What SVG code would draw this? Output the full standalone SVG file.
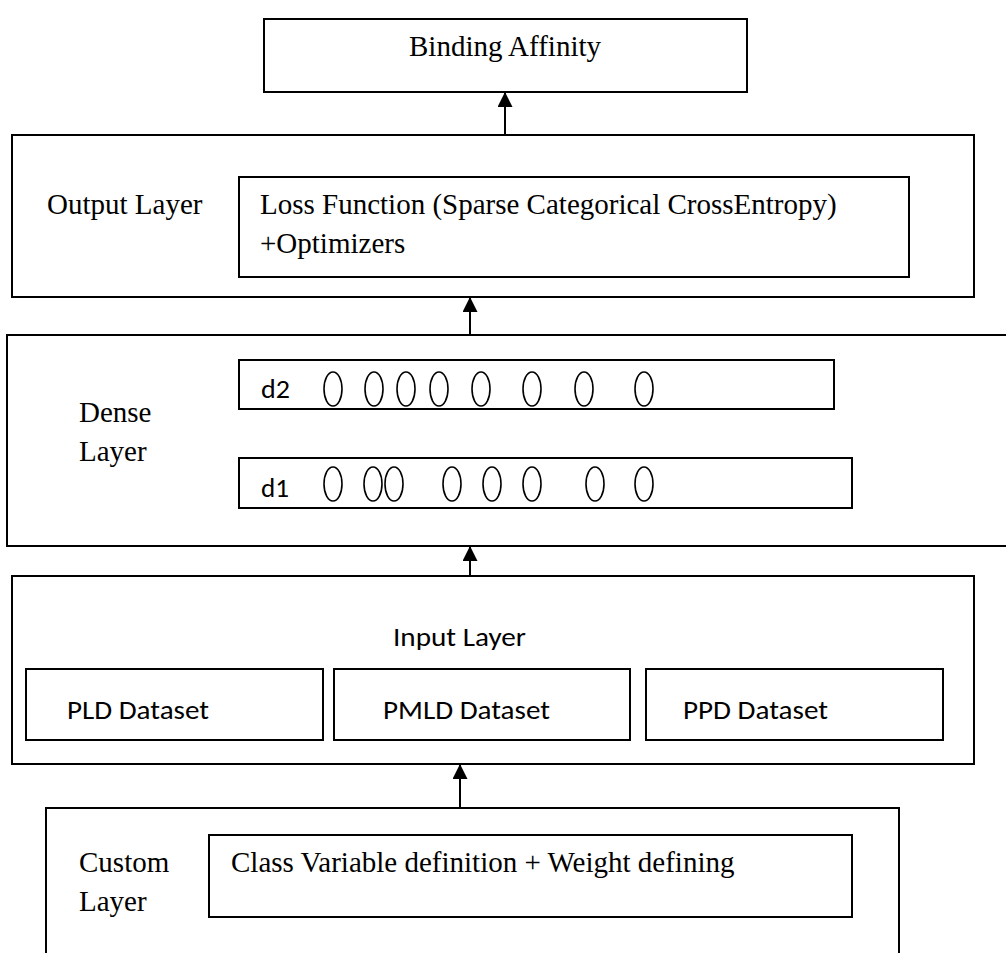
<svg xmlns="http://www.w3.org/2000/svg" width="1006" height="953" viewBox="0 0 1006 953">
<style>
.box{fill:none;stroke:#000;stroke-width:2}
.serif{font-family:"Liberation Serif","Times New Roman",serif;font-size:29px;fill:#000}
.sans{font-family:Carlito,Lato,"Liberation Sans",sans-serif;font-size:26px;fill:#000}
.node{fill:none;stroke:#000;stroke-width:1.6}
.conn{stroke:#000;stroke-width:2;fill:none}
</style>
<defs>
<marker id="arr" markerUnits="userSpaceOnUse" markerWidth="16" markerHeight="16" refX="15" refY="7.5" orient="auto" viewBox="0 0 16 16">
<path d="M0,0 L15,7.5 L0,15 z" fill="#000"/>
</marker>
</defs>
<rect width="1006" height="953" fill="#fff"/>

<g id="binding-affinity">
<rect class="box" x="264" y="19" width="483" height="73"/>
<text class="serif" x="505" y="56" text-anchor="middle">Binding Affinity</text>
</g>

<g id="output-layer">
<rect class="box" x="12" y="135" width="962" height="162"/>
<text class="serif" x="47" y="214">Output Layer</text>
<g id="loss-function">
<rect class="box" x="239" y="177" width="670" height="100"/>
<text class="serif" x="260" y="214">Loss Function (Sparse Categorical CrossEntropy)</text>
<text class="serif" x="260" y="253">+Optimizers</text>
</g>
</g>

<g id="dense-layer">
<rect class="box" x="7" y="335" width="1010" height="211"/>
<text class="serif" x="79" y="422">Dense</text>
<text class="serif" x="79" y="461">Layer</text>
<g id="d2">
<rect class="box" x="239" y="360" width="595" height="49"/>
<text class="sans" x="261" y="398" textLength="29" lengthAdjust="spacingAndGlyphs">d2</text>
<ellipse class="node" cx="333" cy="389" rx="9" ry="17"/>
<ellipse class="node" cx="374" cy="389" rx="9" ry="17"/>
<ellipse class="node" cx="406" cy="389" rx="9" ry="17"/>
<ellipse class="node" cx="439" cy="389" rx="9" ry="17"/>
<ellipse class="node" cx="481" cy="389" rx="9" ry="17"/>
<ellipse class="node" cx="532" cy="389" rx="9" ry="17"/>
<ellipse class="node" cx="584" cy="389" rx="9" ry="17"/>
<ellipse class="node" cx="644" cy="389" rx="9" ry="17"/>
</g>
<g id="d1">
<rect class="box" x="239" y="458" width="613" height="50"/>
<text class="sans" x="261" y="497" textLength="28" lengthAdjust="spacingAndGlyphs">d1</text>
<ellipse class="node" cx="333" cy="484" rx="9" ry="17"/>
<ellipse class="node" cx="373" cy="484" rx="9" ry="17"/>
<ellipse class="node" cx="394" cy="484" rx="9" ry="17"/>
<ellipse class="node" cx="452" cy="484" rx="9" ry="17"/>
<ellipse class="node" cx="492" cy="484" rx="9" ry="17"/>
<ellipse class="node" cx="532" cy="484" rx="9" ry="17"/>
<ellipse class="node" cx="595" cy="484" rx="9" ry="17"/>
<ellipse class="node" cx="644" cy="484" rx="9" ry="17"/>
</g>
</g>

<g id="input-layer">
<rect class="box" x="12" y="576" width="962" height="188"/>
<text class="sans" x="393" y="646" textLength="133" lengthAdjust="spacingAndGlyphs">Input Layer</text>
<g id="pld">
<rect class="box" x="26" y="669" width="297" height="71"/>
<text class="sans" x="67" y="719" textLength="142" lengthAdjust="spacingAndGlyphs">PLD Dataset</text>
</g>
<g id="pmld">
<rect class="box" x="334" y="669" width="296" height="71"/>
<text class="sans" x="383" y="719" textLength="167" lengthAdjust="spacingAndGlyphs">PMLD Dataset</text>
</g>
<g id="ppd">
<rect class="box" x="646" y="669" width="297" height="71"/>
<text class="sans" x="683" y="719" textLength="145" lengthAdjust="spacingAndGlyphs">PPD Dataset</text>
</g>
</g>

<g id="custom-layer">
<rect class="box" x="46" y="808" width="853" height="200"/>
<text class="serif" x="79" y="872">Custom</text>
<text class="serif" x="79" y="911">Layer</text>
<g id="class-variable">
<rect class="box" x="209" y="835" width="643" height="82"/>
<text class="serif" x="231" y="872">Class Variable definition + Weight defining</text>
</g>
</g>

<g id="connectors">
<line class="conn" x1="505" y1="135" x2="505" y2="92" marker-end="url(#arr)"/>
<line class="conn" x1="470" y1="335" x2="470" y2="297" marker-end="url(#arr)"/>
<line class="conn" x1="470" y1="576" x2="470" y2="546" marker-end="url(#arr)"/>
<line class="conn" x1="460" y1="808" x2="460" y2="764" marker-end="url(#arr)"/>
</g>
</svg>
